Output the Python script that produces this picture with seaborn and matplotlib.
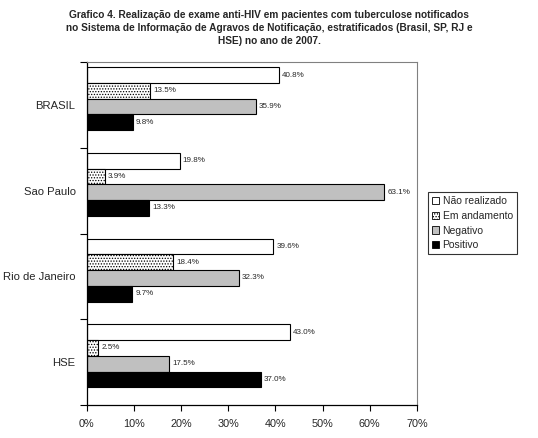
import matplotlib
matplotlib.use("Agg")
import matplotlib.pyplot as plt
import numpy as np
import pandas as pd
import seaborn as sns
from matplotlib.patches import Patch
from matplotlib.ticker import FuncFormatter

# dados do gráfico
regioes = ["BRASIL", "Sao Paulo", "Rio de Janeiro", "HSE"]
situacoes = ["Não realizado", "Em andamento", "Negativo", "Positivo"]
nao_realizado = [40.8, 19.8, 39.6, 43.0]
em_andamento = [13.5, 3.9, 18.4, 2.5]
negativo = [35.9, 63.1, 32.3, 17.5]
positivo = [9.8, 13.3, 9.7, 37.0]
xticks = [0, 10, 20, 30, 40, 50, 60, 70]

titulo = ("Grafico 4. Realização de exame anti-HIV em pacientes com tuberculose notificados\n"
          "no Sistema de Informação de Agravos de Notificação, estratificados (Brasil, SP, RJ e\n"
          "HSE) no ano de 2007.")

sns.set_style("white")
plt.rcParams["font.family"] = ["Liberation Sans", "DejaVu Sans"]
plt.rcParams["hatch.linewidth"] = 0.6

valores = [nao_realizado, em_andamento, negativo, positivo]
df = pd.DataFrame({
    "regiao": [r for _ in situacoes for r in regioes],
    "situacao": [s for s in situacoes for _ in regioes],
    "valor": [v for serie in valores for v in serie],
})

cores = {"Não realizado": "white", "Em andamento": "white",
         "Negativo": "#c0c0c0", "Positivo": "black"}

fig = plt.figure(figsize=(5.38, 4.38), dpi=100)
ax = fig.add_axes([0.161, 0.0753, 0.775 - 0.161, 0.858 - 0.0753])

sns.barplot(data=df, y="regiao", x="valor", hue="situacao", orient="h",
            order=regioes, hue_order=situacoes, palette=cores,
            edgecolor="black", linewidth=0.8, width=0.735, legend=False, ax=ax)

# pontilhado para "Em andamento"
for barra in ax.containers[1]:
    barra.set_hatch("......")

for cont, serie in zip(ax.containers, valores):
    ax.bar_label(cont, labels=[f"{v:.1f}%" for v in serie], padding=2, fontsize=5.8)

# faixa de cada categoria: barras encostadas no topo
topo = 0.3675 + 0.058
ax.set_ylim(len(regioes) - topo, -topo)
ax.set_yticks([k - topo for k in range(len(regioes) + 1)])
ax.set_yticklabels([])
ax.set_yticks([k + 0.5 - topo for k in range(len(regioes))], minor=True)
ax.set_yticklabels(regioes, minor=True, fontsize=8.1)
ax.tick_params(axis="y", which="major", left=True, length=5, width=0.8, color="black")
ax.tick_params(axis="y", which="minor", left=False, length=0, pad=8)

ax.set_xlim(0, 70)
ax.set_xticks(xticks)
ax.xaxis.set_major_formatter(FuncFormatter(lambda v, p: f"{v:.0f}%"))
ax.tick_params(axis="x", bottom=True, length=4, width=0.8, color="black", labelsize=7.8, pad=6)
ax.set_xlabel("")
ax.set_ylabel("")

for lado in ["left", "bottom"]:
    ax.spines[lado].set_color("black")
    ax.spines[lado].set_linewidth(0.9)
for lado in ["top", "right"]:
    ax.spines[lado].set_color("#808080")
    ax.spines[lado].set_linewidth(0.8)

fig.suptitle(titulo, x=0.5, y=0.978, fontsize=7.3, fontweight="bold", linespacing=1.4)

handles = [Patch(facecolor=cores[s], edgecolor="black", linewidth=0.6,
                 hatch="......" if s == "Em andamento" else None) for s in situacoes]
leg = fig.legend(handles, situacoes, loc="upper left", bbox_to_anchor=(428 / 538, 1 - 192 / 438),
                 fontsize=7.5, frameon=True, fancybox=False, edgecolor="black",
                 handlelength=0.7, handleheight=0.7, handletextpad=0.3, labelspacing=0.45,
                 borderpad=0.4, borderaxespad=0)
leg.get_frame().set_linewidth(0.8)

fig.savefig("out.png", dpi=100)
